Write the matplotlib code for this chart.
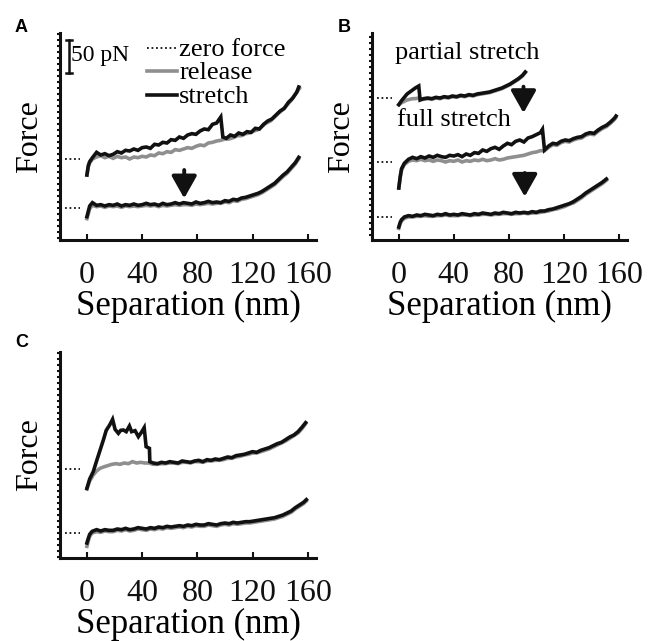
import matplotlib
matplotlib.use("Agg")
import matplotlib.pyplot as plt
import numpy as np
from matplotlib.ticker import MultipleLocator

# ---------------- data (force in pN relative to each zero-force baseline) ----------------
G = [7, 10, 13, 16, 19, 22, 25, 28, 31, 34, 37, 40, 43, 46, 49, 52, 55, 58, 61, 64,
     67, 70, 73, 76, 79, 82, 85, 88, 91, 94, 97, 100, 103, 106, 109, 112, 115, 118, 121, 124,
     127, 130, 133, 136, 139, 142, 145, 148, 151]

# Panel A
A_up_x = [0, 1, 2, 4, 7, 10, 13, 16, 19, 22, 25, 28, 31, 34, 37, 40, 43, 46, 49, 52, 55, 58, 61, 64,
          67, 70, 73, 76, 79, 82, 85, 88, 91, 94, 97, 98.5, 101, 104, 107, 110, 113, 116, 119, 122,
          125, 128, 131, 134, 137, 140, 143, 146, 149, 152, 153.5]
A_up_stretch = [-24, -10, -4, 2, 10, 6, 8, 5, 7, 11, 9, 13, 12, 15, 13, 17, 18, 16, 22, 21, 25, 24, 29, 28,
                33, 31, 36, 38, 37, 42, 45, 44, 52, 54, 63, 33, 31, 36, 34, 39, 37, 41, 40, 46,
                45, 52, 57, 60, 66, 72, 76, 85, 91, 100, 108]
A_up_rel_x = [0, 1, 2, 4, 7, 10, 13, 16, 19, 22, 25, 28, 31, 34, 37, 40, 43, 46, 49, 52, 55, 58, 61, 64,
              67, 70, 73, 76, 79, 82, 85, 88, 91, 94, 97, 100, 103, 106, 109, 112, 115, 118, 121, 124,
              127, 130, 133, 136, 139, 142, 145, 148, 151, 154]
A_up_release = [-24, -12, -6, 0, 3, 5, 2, 4, 1, 4, 2, 3, 0, 3, 2, 4, 3, 6, 5, 9, 8, 11, 10, 14,
                13, 15, 17, 16, 19, 21, 20, 24, 25, 27, 28, 30, 30, 32, 35, 35, 38, 39, 42, 44,
                49, 54, 57, 63, 69, 74, 81, 88, 97, 106]
A_lo_x = [0, 1, 2, 4] + G + [153.5]
A_lo_stretch = [-13, -5, 3, 8,
                4, 5, 3, 5, 4, 6, 3, 5, 4, 6, 4, 5, 7, 5, 6, 4, 7, 5, 6, 8,
                6, 8, 7, 6, 9, 7, 8, 10, 8, 9, 8, 11, 10, 13, 12, 15, 16, 18, 20, 22,
                25, 29, 33, 37, 43, 49, 54, 61, 68, 76]
A_lo_release = [-16, -9, -1, 4,
                2, 3, 1, 3, 2, 3, 1, 3, 2, 3, 2, 3, 4, 3, 4, 2, 4, 3, 4, 5,
                4, 5, 5, 4, 6, 5, 6, 7, 6, 7, 7, 9, 8, 11, 10, 13, 14, 16, 18, 20,
                23, 27, 31, 35, 41, 47, 52, 59, 66, 74]
A_offsets = [0, 73.5]
A_arrow = (70.5, 57, 14.5)  # x, y_top, y_bottom

# Panel B
B_top_x = [0, 2, 4, 6, 8, 10, 12, 14.5, 15.5, 18, 21, 24, 27, 30, 33, 36, 39, 42, 45, 48, 51, 54,
           57, 60, 63, 66, 69, 72, 75, 78, 81, 84, 87, 90, 92]
B_top_stretch = [-10, -4, 1, 6, 9, 12, 15, 18, -3, -1, 0, -1, 1, 0, 2, 1, 3, 2, 4, 3, 5, 4,
                 6, 7, 8, 9, 11, 13, 15, 18, 21, 25, 29, 34, 39]
B_top_release = [-10, -7, -5, -3, -2, -1, -1, 0, -2, -2, -1, -2, 0, -1, 1, 0, 2, 1, 3, 2, 4, 3,
                 5, 6, 7, 8, 10, 12, 14, 17, 20, 24, 28, 33, 38]
B_mid_x = [0, 1, 2, 4, 7, 10, 13, 16, 19, 22, 25, 28, 31, 34, 37, 40, 43, 46, 49, 52, 55, 58, 61, 64,
           67, 70, 73, 76, 79, 82, 85, 88, 91, 94, 97, 100, 103, 104.5, 106, 109, 112, 115, 118, 121,
           124, 127, 130, 133, 136, 139, 142, 145, 148, 151, 154, 157, 158]
B_mid_stretch = [-39, -22, -10, -2, 4, 7, 5, 8, 6, 9, 7, 10, 8, 7, 10, 9, 11, 8, 12, 10, 14, 13, 18, 16,
                 20, 22, 19, 24, 28, 26, 31, 33, 30, 36, 38, 41, 44, 49, 18, 24, 28, 27, 31, 33,
                 32, 35, 37, 38, 42, 44, 43, 48, 52, 55, 60, 66, 69]
B_mid_release = [-39, -24, -12, -4, 1, 3, 2, 4, 2, 3, 1, 3, 2, 0, 2, 1, 3, 0, 2, 1, 3, 2, 4, 2,
                 3, 5, 3, 4, 6, 7, 8, 9, 10, 12, 14, 15, 17, 17, 17, 22, 26, 25, 29, 31,
                 30, 33, 35, 36, 40, 42, 41, 46, 50, 53, 58, 64, 67]
B_bot_x = [0, 1, 2, 4] + G
B_bot_stretch = [-15, -8, -4, 0,
                 2, 1, 3, 2, 4, 3, 2, 4, 3, 5, 3, 4, 3, 5, 4, 3, 5, 4, 6, 5,
                 4, 6, 5, 7, 6, 5, 7, 6, 7, 6, 8, 7, 9, 9, 11, 12, 14, 16, 18, 20,
                 23, 27, 31, 36, 40, 44, 48, 52, 57]
B_bot_release = [-17, -10, -6, -2,
                 0, 0, 1, 1, 2, 1, 1, 2, 2, 3, 2, 2, 2, 3, 3, 2, 3, 3, 4, 4,
                 3, 4, 4, 5, 5, 4, 5, 5, 6, 5, 6, 6, 7, 8, 9, 11, 12, 14, 16, 19,
                 21, 25, 29, 34, 38, 42, 46, 50, 55]
B_offsets = [0, 82.5, 178.5]
B_arrows = [(90.7, 195.5, 156), (91.6, 66, 30.5)]

# Panel C
C_up_x = [0, 2, 4.6, 7, 9.5, 12, 14, 16.5, 18.6, 20.4, 22.8, 24.5, 26.4, 28.5, 30.8, 32.4, 34.9,
          37.3, 39.5, 41.5, 42.9, 45.3, 45.6, 48, 51, 54, 57, 60, 63, 66, 69, 72, 75, 78, 81, 84,
          87, 90, 93, 96, 99, 102, 105, 108, 111, 114, 117, 120, 123, 126, 129, 132, 135, 138,
          141, 144, 147, 150, 153, 156, 158.5]
C_up_stretch = [-29, -15, -4, 12, 28, 44, 58, 66, 74.5, 59.5, 53.5, 58, 58.5, 56, 64.5, 56, 57.5,
                48.5, 55, 62, 33.5, 31, 11, 9, 8, 10, 9, 11, 10, 9, 12, 11, 10, 12, 13, 11,
                14, 13, 15, 14, 16, 18, 17, 20, 21, 22, 24, 26, 25, 28, 30, 32, 35, 38,
                40, 44, 48, 51, 56, 63, 69.5]
C_up_rel_x = [0, 2, 4.6, 7, 9.5, 12, 15, 18, 21, 24, 27, 30, 33, 36, 39, 42, 45, 48, 51, 54, 57,
              60, 63, 66, 69, 72, 75, 78, 81, 84, 87, 90, 93, 96, 99, 102, 105, 108, 111, 114,
              117, 120, 123, 126, 129, 132, 135, 138, 141, 144, 147, 150, 153, 156, 158.5]
C_up_release = [-30, -18, -9, -3, 1, 3, 5, 7, 8, 7, 9, 8, 11, 9, 10, 9, 9, 7, 7, 8, 8,
                9, 9, 8, 10, 10, 9, 11, 11, 10, 12, 12, 13, 13, 14, 16, 16, 18, 19, 21,
                22, 24, 24, 26, 28, 30, 33, 36, 39, 42, 46, 50, 54, 61, 68]
C_lo_x = [0, 1, 2, 3.8] + G + [154, 157, 159]
C_lo_stretch = [-15, -8, -2, 2.5,
                5, 3, 5, 4, 4, 6, 5, 7, 5, 6, 8, 7, 6, 8, 7, 9, 8, 10, 9, 10,
                11, 10, 12, 11, 13, 12, 12, 14, 13, 12, 14, 15, 14, 16, 15, 16, 17, 17, 18, 19,
                20, 21, 22, 23, 25, 27, 30, 33, 38, 42, 46, 50]
C_lo_release = [-20, -12, -5, 0,
                2, 1, 3, 2, 2, 4, 3, 5, 3, 4, 6, 5, 4, 6, 5, 7, 6, 8, 7, 8,
                9, 8, 10, 9, 11, 10, 10, 12, 11, 10, 12, 13, 12, 14, 13, 14, 15, 15, 16, 17,
                18, 19, 20, 21, 23, 25, 28, 31, 36, 40, 44, 48]
C_offsets = [0, 96]

x_ticks = [0, 40, 80, 120, 160]
x_lim = (-19.5, 166)
ylims = {"A": (-48, 262.5), "B": (-34.5, 276), "C": (-37.5, 271.5)}

# ---------------- styling ----------------
SERIF = ["Liberation Serif", "DejaVu Serif"]
plt.rcParams["font.family"] = SERIF
BLACK = "#111111"
GRAY = "#8f8f8f"
LW = 2.6

fig = plt.figure(figsize=(6.48, 6.41), dpi=100)
W, H = 648, 641


def make_ax(left, top, right, bottom):
    return fig.add_axes([left / W, 1 - bottom / H, (right - left) / W, (bottom - top) / H])


axA = make_ax(60, 33, 316, 240)
axB = make_ax(372, 33, 627, 240)
axC = make_ax(60, 352, 316, 558)


def style(ax, key):
    ax.set_xlim(*x_lim)
    ax.set_ylim(*ylims[key])
    for s in ("top", "right"):
        ax.spines[s].set_visible(False)
    for s in ("left", "bottom"):
        ax.spines[s].set_linewidth(2.2)
        ax.spines[s].set_color(BLACK)
    ax.set_xticks(x_ticks)
    ax.set_xticklabels([str(t) for t in x_ticks], fontfamily=SERIF, fontsize=23)
    ax.tick_params(axis="x", direction="in", length=4, width=1.5, pad=15, colors=BLACK)
    ax.yaxis.set_major_locator(MultipleLocator(9))
    ax.tick_params(axis="y", direction="out", length=2.5, width=1.5, labelleft=False, colors=BLACK)
    ax.set_xlabel("Separation (nm)", fontfamily=SERIF, fontsize=25, labelpad=0)
    ax.set_ylabel("Force", fontfamily=SERIF, fontsize=23, labelpad=9)


def zero_marks(ax, offsets):
    for o in offsets:
        ax.plot([-16, -5], [o, o], color=BLACK, lw=1.3, linestyle=(0, (1, 1.5)))


def trace(ax, x, y, off, color):
    ax.plot(x, np.asarray(y) + off, color=color, lw=LW, solid_joinstyle="miter")


def arrow(ax, x, ytop, ybot):
    ax.annotate("", xy=(x, ybot), xytext=(x, ytop),
                arrowprops=dict(arrowstyle="-|>,head_length=0.8,head_width=0.45",
                                mutation_scale=17, lw=2.8, color=BLACK,
                                shrinkA=0, shrinkB=0))


for ax, key in ((axA, "A"), (axB, "B"), (axC, "C")):
    style(ax, key)

# Panel A
zero_marks(axA, A_offsets)
trace(axA, A_lo_x, A_lo_release, A_offsets[0], GRAY)
trace(axA, A_lo_x, A_lo_stretch, A_offsets[0], BLACK)
trace(axA, A_up_rel_x, A_up_release, A_offsets[1], GRAY)
trace(axA, A_up_x, A_up_stretch, A_offsets[1], BLACK)
arrow(axA, *A_arrow)
# scale bar and legend
axA.plot([-13, -13], [202, 252], color=BLACK, lw=1.8)
axA.plot([-15.5, -10.5], [252, 252], color=BLACK, lw=1.8)
axA.plot([-15.5, -10.5], [202, 202], color=BLACK, lw=1.8)
axA.text(-11.8, 228, "50 pN", fontfamily=SERIF, fontsize=17, va="center", ha="left")
leg_y = [240, 205.5, 169.5]
leg_lbl = ["zero force", "release", "stretch"]
leg_style = [dict(color=BLACK, lw=1.3, linestyle=(0, (1, 1.5))),
             dict(color=GRAY, lw=LW), dict(color=BLACK, lw=LW)]
for yy, lbl, st in zip(leg_y, leg_lbl, leg_style):
    axA.plot([43.5, 65], [yy, yy], **st)
    axA.text(67, yy - 2.5, lbl, fontfamily=SERIF, fontsize=19, va="center", ha="left")

# Panel B
zero_marks(axB, B_offsets)
trace(axB, B_bot_x, B_bot_release, B_offsets[0], GRAY)
trace(axB, B_bot_x, B_bot_stretch, B_offsets[0], BLACK)
trace(axB, B_mid_x, B_mid_release, B_offsets[1], GRAY)
trace(axB, B_mid_x, B_mid_stretch, B_offsets[1], BLACK)
trace(axB, B_top_x, B_top_release, B_offsets[2], GRAY)
trace(axB, B_top_x, B_top_stretch, B_offsets[2], BLACK)
for a in B_arrows:
    arrow(axB, *a)
axB.text(-3, 246, "partial stretch", fontfamily=SERIF, fontsize=19, va="center", ha="left")
axB.text(-1.5, 145.5, "full stretch", fontfamily=SERIF, fontsize=19, va="center", ha="left")

# Panel C
zero_marks(axC, C_offsets)
trace(axC, C_lo_x, C_lo_release, C_offsets[0], GRAY)
trace(axC, C_lo_x, C_lo_stretch, C_offsets[0], BLACK)
trace(axC, C_up_rel_x, C_up_release, C_offsets[1], GRAY)
trace(axC, C_up_x, C_up_stretch, C_offsets[1], BLACK)

# Panel letters
for lbl, px, py in (("A", 15, 19), ("B", 338, 19), ("C", 15, 334)):
    fig.text(px / W, 1 - py / H, lbl, fontfamily=["Liberation Sans", "DejaVu Sans"],
             fontweight="bold", fontsize=13, va="top", ha="left")

fig.savefig("out.png", dpi=100)
